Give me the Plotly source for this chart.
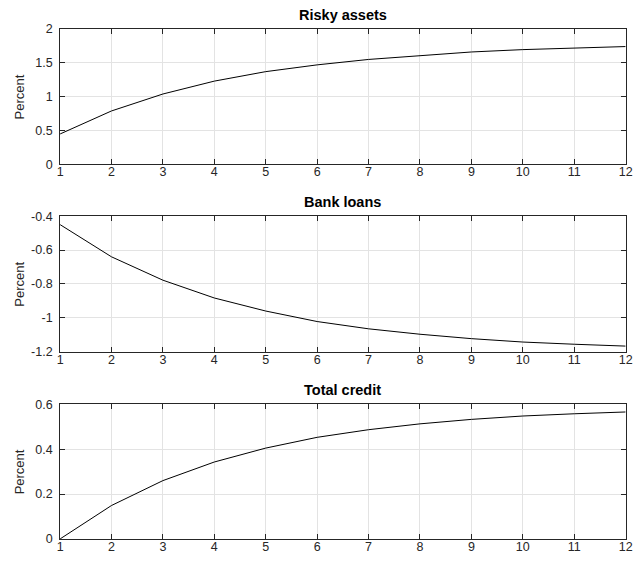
import plotly.graph_objects as go

periods = list(range(1, 13))
risky_assets = [0.45, 0.79, 1.04, 1.23, 1.37, 1.47, 1.55, 1.61, 1.66, 1.695, 1.72, 1.74]
bank_loans = [-0.45, -0.64, -0.778, -0.883, -0.96, -1.022, -1.065, -1.097, -1.123, -1.143, -1.156, -1.167]
total_credit = [0.0, 0.149, 0.26, 0.343, 0.405, 0.453, 0.487, 0.513, 0.533, 0.548, 0.558, 0.566]

titles = ["Risky assets", "Bank loans", "Total credit"]
series = [risky_assets, bank_loans, total_credit]
y_ranges = [[0, 2], [-1.2, -0.4], [0, 0.6]]
y_ticks = [[0, 0.5, 1, 1.5, 2], [-1.2, -1, -0.8, -0.6, -0.4], [0, 0.2, 0.4, 0.6]]
y_ticktext = [["0", "0.5", "1", "1.5", "2"], ["-1.2", "-1", "-0.8", "-0.6", "-0.4"], ["0", "0.2", "0.4", "0.6"]]

W, H = 642, 562
x_left, x_right = 58, 632.5
panels_px = [(22.5, 161.5), (214.5, 353.5), (407.5, 545.5)]

font_family = "Liberation Sans, Arial, Helvetica, sans-serif"
fig = go.Figure()
annotations = []
for i, (name, vals) in enumerate(zip(titles, series)):
    top, bot = panels_px[i]
    xa = "x" if i == 0 else f"x{i+1}"
    ya = "y" if i == 0 else f"y{i+1}"
    fig.add_trace(go.Scatter(x=periods, y=vals, mode="lines",
                             line=dict(color="black", width=1),
                             xaxis=xa, yaxis=ya, showlegend=False))
    axis_common = dict(showline=True, linecolor="#262626", linewidth=1, mirror="ticks",
                       ticks="inside", ticklen=5, tickcolor="#262626",
                       showgrid=True, gridcolor="#e3e3e3", gridwidth=1, zeroline=False,
                       tickfont=dict(family=font_family, size=12.5, color="#262626"))
    xkey = "xaxis" if i == 0 else f"xaxis{i+1}"
    ykey = "yaxis" if i == 0 else f"yaxis{i+1}"
    fig.update_layout(**{
        xkey: dict(domain=[x_left / W, x_right / W], range=[1, 12],
                   tickvals=periods, ticktext=[str(p) for p in periods],
                   ticklabelstandoff=-4,
                   anchor=ya, **axis_common),
        ykey: dict(domain=[1 - bot / H, 1 - top / H], range=y_ranges[i],
                   tickvals=y_ticks[i], ticktext=y_ticktext[i],
                   ticklabelstandoff=4,
                   anchor=xa, **axis_common),
    })
    annotations.append(dict(text="<b>" + name + "</b>", xref="paper", yref="paper",
                            x=(x_left + x_right) / 2 / W, y=1 - (top - 4) / H,
                            xanchor="center", yanchor="bottom", showarrow=False,
                            font=dict(family=font_family, size=14.5, color="black")))
    annotations.append(dict(text="Percent", xref="paper", yref="paper",
                            x=17 / W, y=1 - (top + bot) / 2 / H, textangle=-90,
                            xanchor="center", yanchor="middle", showarrow=False,
                            font=dict(family=font_family, size=13, color="#262626")))

fig.update_layout(width=W, height=H, margin=dict(l=0, r=0, t=0, b=0),
                  paper_bgcolor="white", plot_bgcolor="white",
                  annotations=annotations)
fig.write_html("out.html")
